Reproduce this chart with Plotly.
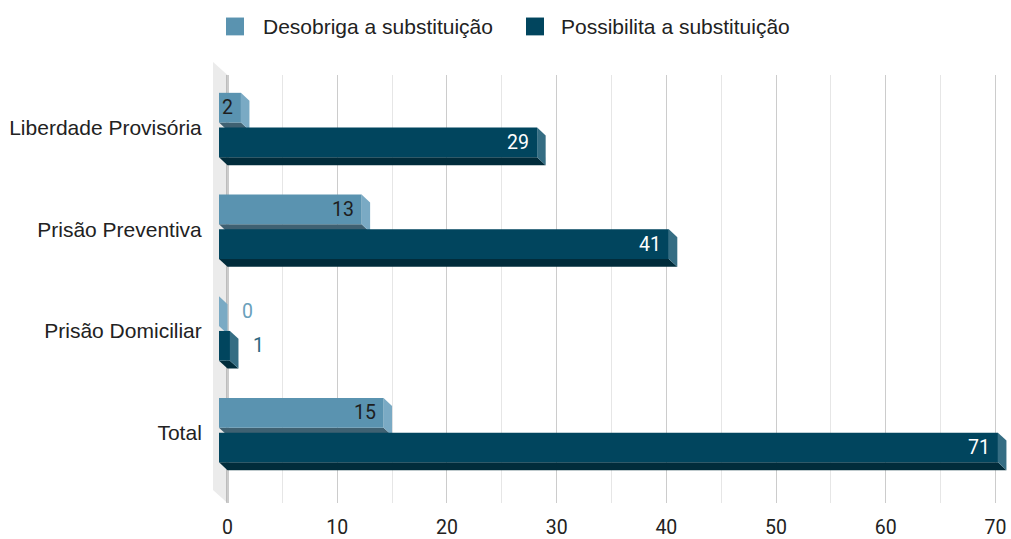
import plotly.graph_objects as go

# ---------------- data ----------------
categories = ["Liberdade Provisória", "Prisão Preventiva", "Prisão Domiciliar", "Total"]
desobriga = [2, 13, 0, 15]
possibilita = [29, 41, 1, 71]
series_names = ["Desobriga a substituição", "Possibilita a substituição"]
x_tick_vals = [0, 10, 20, 30, 40, 50, 60, 70]

# ---------------- style / geometry ----------------
W, H = 1011, 539
ML, MR, MT, MB = 213, 0, 75, 32
PLOT_W = W - ML - MR
PLOT_H = H - MT - MB
PX_X = 10.971          # pixels per x unit
PX_Y = 102.67          # pixels per category step
ZERO_PX = 227.5        # pixel of x=0 (back plane)
FIRST_PX = 128         # pixel of first category (top of dark front face)
DX = 8.5 / PX_X        # depth offset (x)
DY = 8.0 / PX_Y        # depth offset (y)

xmin = (ML - ZERO_PX) / PX_X
xmax = xmin + PLOT_W / PX_X
ytop = (MT - FIRST_PX) / PX_Y
ybot = ytop + PLOT_H / PX_Y

NUM_FONT = "Roboto"
TXT_FONT = "Liberation Sans, Arial, sans-serif"
FS_NUM = 19.5
FS_TXT = 21

series = [
    dict(name=series_names[0], values=desobriga, offset=-0.341, width=0.292,
         front="#5a93b0", side="#7aaac4", bottom="#3f6172",
         text_in="#1e1e1e", text_out="#6aa0bb"),
    dict(name=series_names[1], values=possibilita, offset=0.0, width=0.292,
         front="#01455e", side="#356d83", bottom="#012c3b",
         text_in="#ffffff", text_out="#2c6680"),
]

ypos = list(range(len(categories)))

fig = go.Figure()
shapes = []
annotations = []

# left wall of the 3D box
shapes.append(dict(
    type="path", xref="x", yref="paper", layer="below",
    path=f"M {xmin},{1 + 13 / PLOT_H} L 0,1 L 0,0 L {xmin},{13 / PLOT_H} Z",
    fillcolor="#ebebeb", line=dict(width=0)))
# baseline at x = 0 (kept behind the bars)
shapes.append(dict(
    type="line", xref="x", yref="paper", layer="below",
    x0=0, x1=0, y0=0, y1=1, line=dict(color="#333333", width=1.5)))

for si, s in enumerate(series):
    # front faces: real bars on an overlaid axis shifted by the depth offset
    fig.add_trace(go.Bar(
        name=s["name"], x=s["values"], y=ypos, orientation="h",
        offset=s["offset"], width=s["width"],
        marker=dict(color=s["front"], line=dict(width=0)),
        xaxis="x2", yaxis="y", showlegend=False,
        hovertemplate="%{x}<extra>" + s["name"] + "</extra>"))
    for i, v in enumerate(s["values"]):
        yt = i + s["offset"]
        yb = yt + s["width"]
        # bottom face (in main-axis coordinates: front is shifted by -DX)
        shapes.append(dict(
            type="path", xref="x", yref="y", layer="between",
            path=f"M {-DX},{yb} L {v - DX},{yb} L {v},{yb + DY} L 0,{yb + DY} Z",
            fillcolor=s["bottom"], line=dict(width=0)))
        # right side face
        shapes.append(dict(
            type="path", xref="x", yref="y", layer="between",
            path=f"M {v - DX},{yt} L {v},{yt + DY} L {v},{yb + DY} L {v - DX},{yb} Z",
            fillcolor=s["side"], line=dict(width=0)))
        # value label
        yc = (yt + yb) / 2
        inside = v * PX_X > 18
        annotations.append(dict(
            x=v, y=yc, xref="x2", yref="y", text=str(v), showarrow=False,
            xanchor="right" if inside else "left",
            xshift=-6 if inside else 21, yanchor="middle",
            font=dict(family=NUM_FONT, size=FS_NUM,
                      color=s["text_in"] if inside else s["text_out"])))

# legend (manual, top centre)
legend_items = [(226, 261, series[0]), (526, 559, series[1])]
for sq_x, tx_x, s in legend_items:
    shapes.append(dict(
        type="rect", xref="paper", yref="paper",
        x0=(sq_x - ML) / PLOT_W, x1=(sq_x + 18 - ML) / PLOT_W,
        y0=1 + (MT - 35) / PLOT_H, y1=1 + (MT - 17) / PLOT_H,
        fillcolor=s["front"], line=dict(width=0)))
    annotations.append(dict(
        x=(tx_x - ML) / PLOT_W, y=1 + (MT - 26) / PLOT_H, xref="paper", yref="paper",
        text=s["name"], showarrow=False, xanchor="left", yanchor="middle",
        font=dict(family=TXT_FONT, size=FS_TXT, color="#222222")))

fig.update_layout(
    width=W, height=H,
    margin=dict(l=ML, r=MR, t=MT, b=MB, pad=0),
    paper_bgcolor="white", plot_bgcolor="white",
    barmode="overlay",
    showlegend=False,
    font=dict(family=TXT_FONT, size=FS_TXT, color="#222222"),
    xaxis=dict(
        range=[xmin, xmax], tickvals=x_tick_vals, showgrid=True,
        gridcolor="#cccccc", gridwidth=1,
        minor=dict(dtick=5, tick0=0, showgrid=True, gridcolor="#e6e6e6", gridwidth=1),
        zeroline=False,
        showline=False, ticks="outside", ticklen=7, tickcolor="rgba(0,0,0,0)",
        tickfont=dict(family=NUM_FONT, size=FS_NUM, color="#222222"), fixedrange=True),
    xaxis2=dict(
        range=[xmin + DX, xmax + DX], overlaying="x", visible=False, fixedrange=True),
    yaxis=dict(
        range=[ybot, ytop], tickvals=ypos, ticktext=categories,
        showgrid=False, zeroline=False, showline=False,
        ticks="outside", ticklen=6, tickcolor="rgba(0,0,0,0)",
        tickfont=dict(family=TXT_FONT, size=FS_TXT, color="#222222"), fixedrange=True),
    shapes=shapes,
    annotations=annotations,
)

fig.write_html("out.html")
